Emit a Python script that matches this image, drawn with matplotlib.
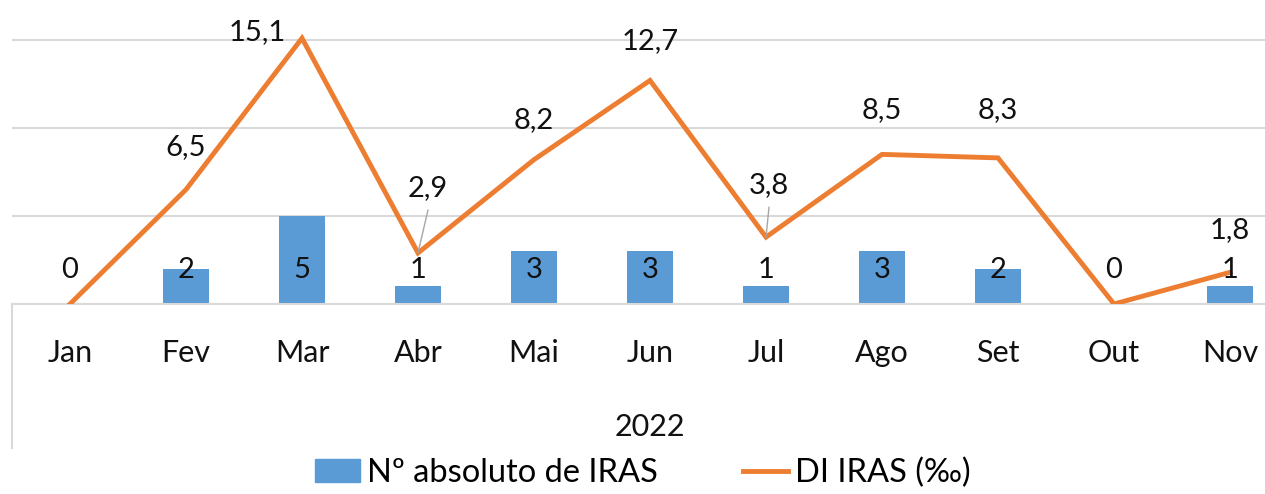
import matplotlib.pyplot as plt
import matplotlib.lines as mlines
import matplotlib.patches as mpatches
import numpy as np

# Data
months = ["Jan", "Fev", "Mar", "Abr", "Mai", "Jun", "Jul", "Ago", "Set", "Out", "Nov"]
n_iras = [0, 2, 5, 1, 3, 3, 1, 3, 2, 0, 1]
di_iras = [0, 6.5, 15.1, 2.9, 8.2, 12.7, 3.8, 8.5, 8.3, 0, 1.8]
year_label = "2022"

# label offsets for the line values (pixels), None = no label drawn
line_label_offsets = [None, (0, 43), (-45, 6), (10, 65), (0, 40), (0, 39),
                      (3, 52), (0, 44), (0, 48), None, (0, 42)]
leader = [False, False, False, True, False, False, True, False, False, False, False]

bar_color = "#5b9bd5"
line_color = "#ed7d31"
grid_color = "#d9d9d9"
text_color = "#111111"
font = ["Lato", "DejaVu Sans"]
plt.rcParams["font.family"] = font

W, H = 1265, 494
fig = plt.figure(figsize=(W / 100, H / 100), dpi=100)
# plot area runs a bit past the right edge of the picture (cropped in the original)
ax = fig.add_axes([12 / W, 190 / H, 1276 / W, 304 / H])

x = np.arange(len(months))
ax.bar(x, n_iras, width=0.4, color=bar_color, zorder=2)
ax.plot(x, di_iras, color=line_color, lw=3.5, zorder=3, solid_joinstyle="miter")

ax.set_xlim(-0.5, len(months) - 0.5)
ax.set_ylim(0, 17.27)
ax.set_yticks([0, 5, 10, 15])
ax.yaxis.grid(True, color=grid_color, lw=1.5, zorder=0)
ax.set_yticklabels([])
ax.tick_params(axis="y", length=0)
for s in ["top", "right", "left"]:
    ax.spines[s].set_visible(False)
ax.spines["bottom"].set_color(grid_color)
ax.spines["bottom"].set_linewidth(1.5)

ax.set_xticks(x)
ax.set_xticklabels(months, fontsize=22, color=text_color)
ax.tick_params(axis="x", length=0, pad=25)

# year group label and separator line of the category axis
ax.text(0.5, -0.405, year_label, transform=ax.transAxes, ha="center", va="center",
        fontsize=22, color=text_color)
ax.add_line(mlines.Line2D([0, 0], [0, -0.474], transform=ax.transAxes,
                          color=grid_color, lw=1.5, clip_on=False))

# bar value labels (all at the same height)
for xi, v in zip(x, n_iras):
    ax.text(xi, 1.93, str(v), ha="center", va="center", fontsize=21,
            color=text_color, zorder=5)

# line value labels
for xi, v, off, ld in zip(x, di_iras, line_label_offsets, leader):
    if off is None:
        continue
    txt = f"{v:.1f}".replace(".", ",")
    ax.annotate(txt, (xi, v), xytext=off, textcoords="offset pixels",
                ha="center", va="center", fontsize=21, color=text_color, zorder=5)
    if ld:
        ax.annotate("", (xi, v), xytext=(off[0], off[1] - 22), textcoords="offset pixels",
                    arrowprops=dict(arrowstyle="-", color="#a6a6a6", lw=1,
                                    shrinkA=0, shrinkB=0), zorder=4)

handles = [mpatches.Patch(color=bar_color, label="Nº absoluto de IRAS"),
           mlines.Line2D([], [], color=line_color, lw=3.5, label="DI IRAS (‰)")]
fig.legend(handles=handles, loc="center", bbox_to_anchor=(0.508, 0.043), ncol=2,
           frameon=False, fontsize=23.5, handlelength=1.4, handletextpad=0.2,
           columnspacing=2.6)

fig.savefig("out.png", dpi=100)
